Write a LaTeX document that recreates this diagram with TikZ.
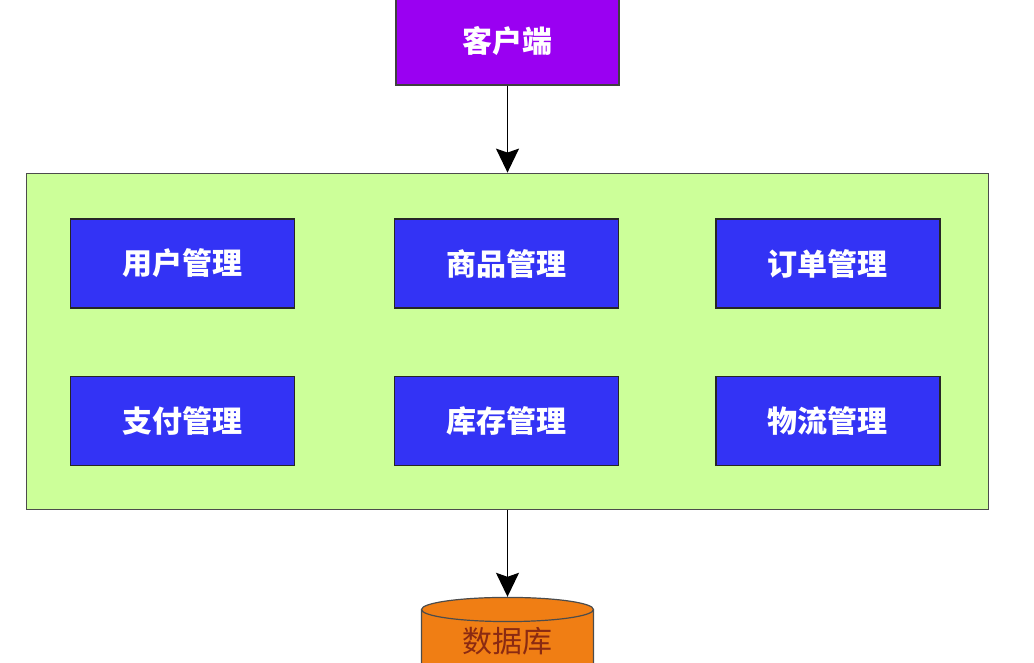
\documentclass[tikz,border=0pt]{standalone}
\usepackage{fontspec}
\newfontfamily\cjk{Noto Sans CJK SC}
\usetikzlibrary{arrows.meta,positioning,shapes.geometric}
\definecolor{clientpurple}{HTML}{9A00F2}
\definecolor{modblue}{HTML}{3333F5}
\definecolor{layergreen}{HTML}{CCFF99}
\definecolor{dborange}{HTML}{F07E14}
\definecolor{dbtext}{HTML}{8A2A12}

\begin{document}
\begin{tikzpicture}[
  x=1pt,y=-1pt,
  font=\cjk\bfseries\fontsize{30}{34}\selectfont,
  >={Stealth[length=24pt,width=23pt,inset=4pt]},
  edge/.style={->,line width=1.4pt,draw=black},
  client/.style={draw=black!75,line width=1.2pt,fill=clientpurple,
                 text=white,minimum width=223pt,minimum height=87pt},
  layer/.style={draw=black!70,line width=1.2pt,fill=layergreen,
                minimum width=962pt,minimum height=336pt},
  module/.style={draw=black!85,line width=1.2pt,fill=modblue,
                 text=white,minimum width=224pt,minimum height=89pt},
  store/.style={cylinder,shape border rotate=90,aspect=0.25,
                draw=black!70,line width=1.2pt,fill=dborange,text=dbtext,
                font=\cjk\fontsize{30}{34}\selectfont,
                minimum width=172pt,minimum height=100pt,text depth=32pt}
]
\useasboundingbox (0,0) rectangle (1034,663);
\node[client] (client) at (507.5,41.5) {客户端};
\node[layer,below=87pt of client] (layer) {};
\node[module] (user) at (182.5,263.5) {用户管理};
\node[module,right=99pt of user] (goods) {商品管理};
\node[module,right=96pt of goods] (order) {订单管理};
\node[module,below=67pt of user] (pay) {支付管理};
\node[module,below=67pt of goods] (stock) {库存管理};
\node[module,below=67pt of order] (ship) {物流管理};
\node[store,below=87pt of layer] (db) {数据库};

\draw[edge] (client) -- (layer);
\draw[edge] (layer) -- (db.top);
\end{tikzpicture}
\end{document}
